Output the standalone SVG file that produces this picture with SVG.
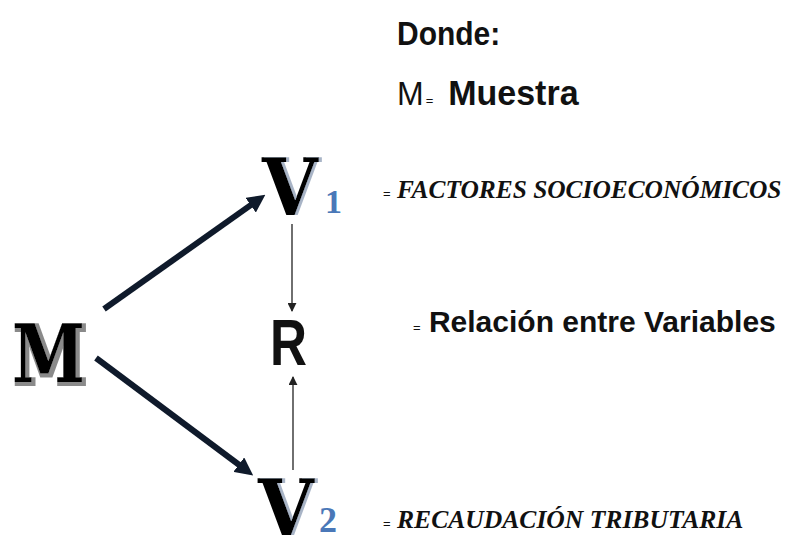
<svg xmlns="http://www.w3.org/2000/svg" width="791" height="535" viewBox="0 0 791 535">
<style>
.big{font-family:"DejaVu Serif",serif;font-weight:bold;fill:#000}
.sub{font-family:"Liberation Serif",serif;font-weight:bold;fill:#4a78b8}
.it{font-family:"Liberation Serif",serif;font-style:italic;font-weight:bold;fill:#111}
.sans{font-family:"Liberation Sans",Arial,sans-serif;font-weight:bold;fill:#111}
.eq{font-family:"Liberation Sans",Arial,sans-serif;font-size:13px;font-style:normal;font-weight:normal;fill:#111}
.thick{stroke:#0f1a2b;stroke-width:6;fill:none}
.thin{stroke:#222;stroke-width:1.3;fill:none}
</style>
<defs>
<marker id="ah" viewBox="0 0 10 10" refX="5" refY="5" markerWidth="3" markerHeight="3" orient="auto"><path d="M0,0 L10,5 L0,10 z" fill="#0f1a2b"/></marker>
<marker id="as" viewBox="0 0 10 10" refX="9" refY="5" markerWidth="9" markerHeight="9" markerUnits="userSpaceOnUse" orient="auto"><path d="M0,0 L10,5 L0,10 z" fill="#222"/></marker>
<filter id="vs" x="-20%" y="-20%" width="140%" height="140%"><feDropShadow dx="3" dy="0" stdDeviation="0.4" flood-color="#a8b4c6" flood-opacity="1"/></filter>
<filter id="ms" x="-20%" y="-20%" width="140%" height="140%"><feMorphology in="SourceAlpha" operator="dilate" radius="1.5" result="d"/><feOffset in="d" dx="2" dy="2" result="o"/><feFlood flood-color="#8a8a8a"/><feComposite in2="o" operator="in"/><feMerge><feMergeNode/><feMergeNode in="SourceGraphic"/></feMerge></filter>
</defs>
<g id="connectors">
<line class="thick" x1="104" y1="309" x2="258" y2="200" marker-end="url(#ah)"/>
<line class="thick" x1="96" y1="358" x2="246" y2="470" marker-end="url(#ah)"/>
<line class="thin" x1="292" y1="224" x2="292" y2="311" marker-end="url(#as)"/>
<line class="thin" x1="293" y1="470" x2="293" y2="377" marker-end="url(#as)"/>
</g>
<g id="node-M">
<text class="big" font-size="66" filter="url(#ms)" transform="translate(12,382) scale(1,1.22)">M</text>
</g>
<g id="node-V1">
<text class="big" font-size="72" filter="url(#vs)" transform="translate(262,215) scale(1,1.08)">V</text>
<text class="sub" x="325" y="213" font-size="34">1</text>
</g>
<g id="node-R"><text class="sans" font-size="64" transform="translate(270,365) scale(0.8,1)">R</text></g>
<g id="node-V2">
<text class="big" font-size="72" filter="url(#vs)" transform="translate(258,536) scale(1,1.08)">V</text>
<text class="sub" x="319" y="532" font-size="36">2</text>
</g>
<g id="legend">
<text class="sans" font-size="30" transform="translate(397,45) scale(1,1.12)">Donde:</text>
<text font-family="Liberation Sans,Arial,sans-serif" font-size="32" fill="#111" transform="translate(397,105) scale(1,1.03)">M<tspan font-size="13" dx="2">=</tspan><tspan class="sans" font-size="34" dx="15">Muestra</tspan></text>
<text class="it" x="383" y="198" font-size="25.4"><tspan class="eq">=</tspan> FACTORES SOCIOECONÓMICOS</text>
<text class="sans" x="413" y="332" font-size="30"><tspan class="eq">=</tspan> Relación entre Variables</text>
<text class="it" x="383" y="528" font-size="25.6"><tspan class="eq">=</tspan> RECAUDACIÓN TRIBUTARIA</text>
</g>
</svg>
